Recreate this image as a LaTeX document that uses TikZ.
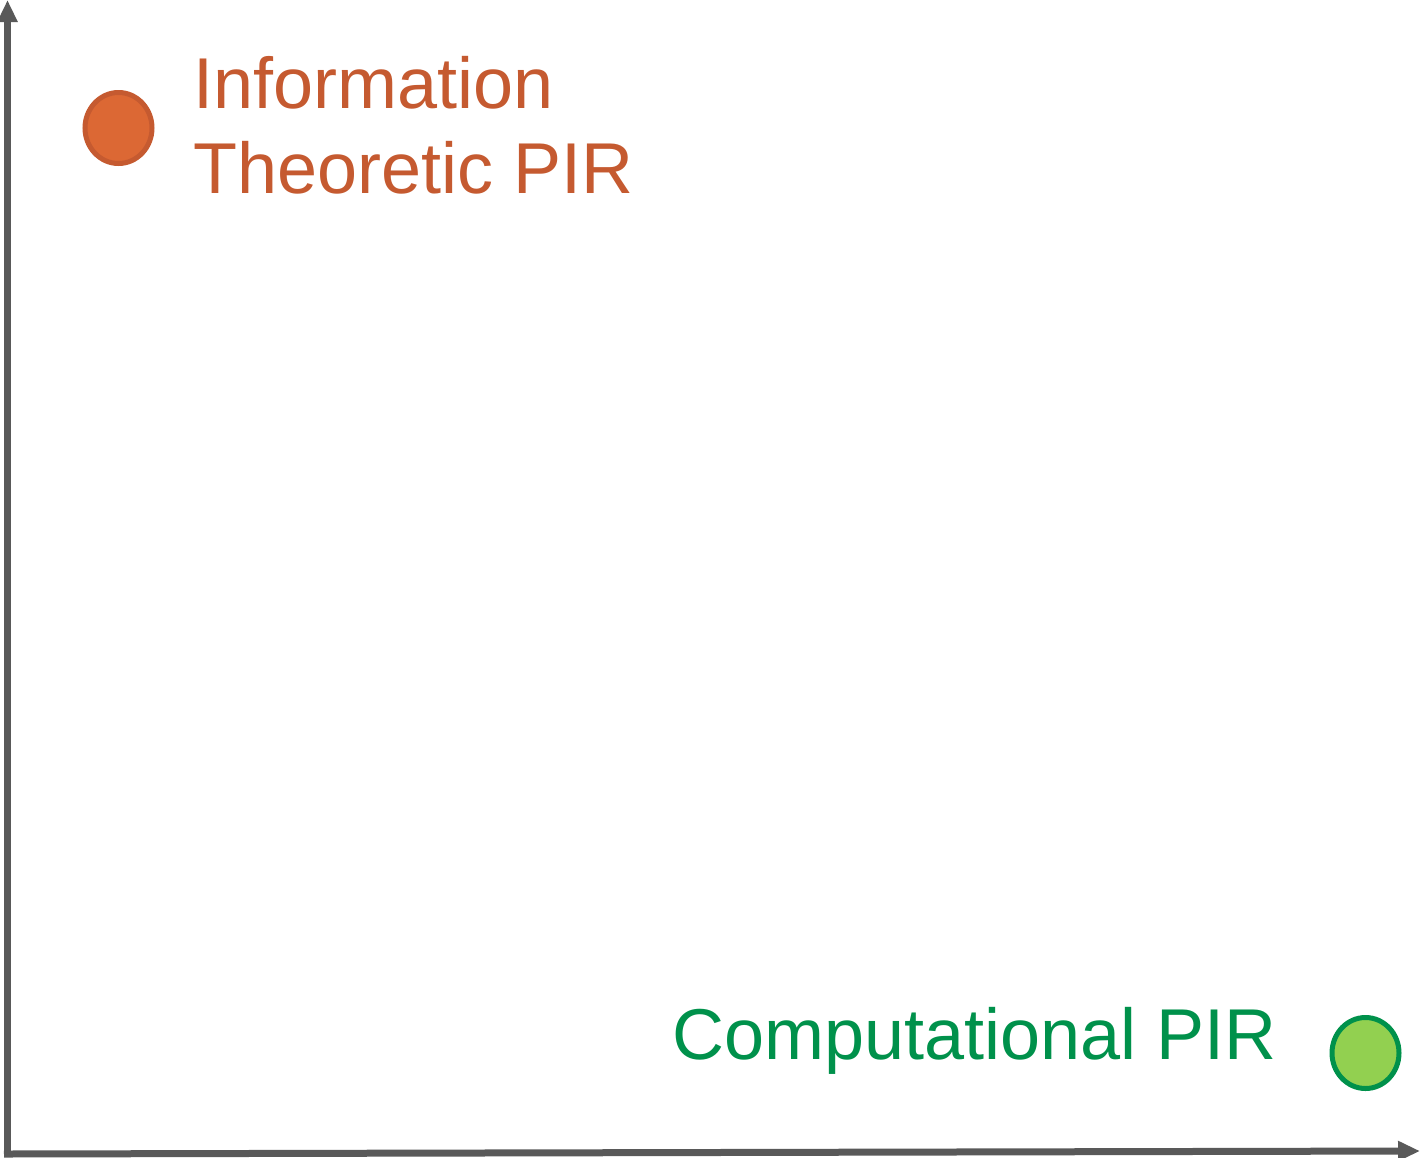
\documentclass[tikz,border=0pt]{standalone}
\usepackage{fontspec}
\setmainfont{Liberation Sans}
\usetikzlibrary{arrows.meta}
\definecolor{axisgray}{RGB}{89,89,89}
\definecolor{itorange}{RGB}{197,90,48}
\definecolor{itfill}{RGB}{220,104,52}
\definecolor{cpgreen}{RGB}{0,145,75}
\definecolor{cpfill}{RGB}{146,208,80}
\tikzset{
  axis/.style={draw=axisgray, line width=7pt, -{Triangle[length=22pt,width=19pt]}},
  dot/.style={line width=5pt, x radius=33.5pt, y radius=35.5pt},
  label/.style={font=\fontsize{72}{85}\selectfont, inner sep=0pt, align=left}
}
\begin{document}
\begin{tikzpicture}[x=1pt,y=-1pt]
  \useasboundingbox (0,0) rectangle (1421,1157);
  % axes
  \coordinate (ybot) at (7.5,1157);
  \coordinate (ytop) at (7.5,0);
  \coordinate (xleft) at (4,1154);
  \coordinate (xright) at (1420,1151);
  \draw[axis] (ybot) -- (ytop);
  \draw[axis] (xleft) -- (xright);
  % information theoretic PIR (base anchor sits on the last line)
  \coordinate (itc) at (118.5,128);
  \filldraw[dot, draw=itorange, fill=itfill] (itc) ellipse [];
  \node[label, text=itorange, anchor=base west] (itl) at (193,193) {Information\\Theoretic PIR};
  % computational PIR
  \coordinate (cpc) at (1365.5,1053);
  \filldraw[dot, draw=cpgreen, fill=cpfill] (cpc) ellipse [];
  \node[label, text=cpgreen, anchor=base west] (cpl) at (672,1059) {Computational PIR};
\end{tikzpicture}
\end{document}
